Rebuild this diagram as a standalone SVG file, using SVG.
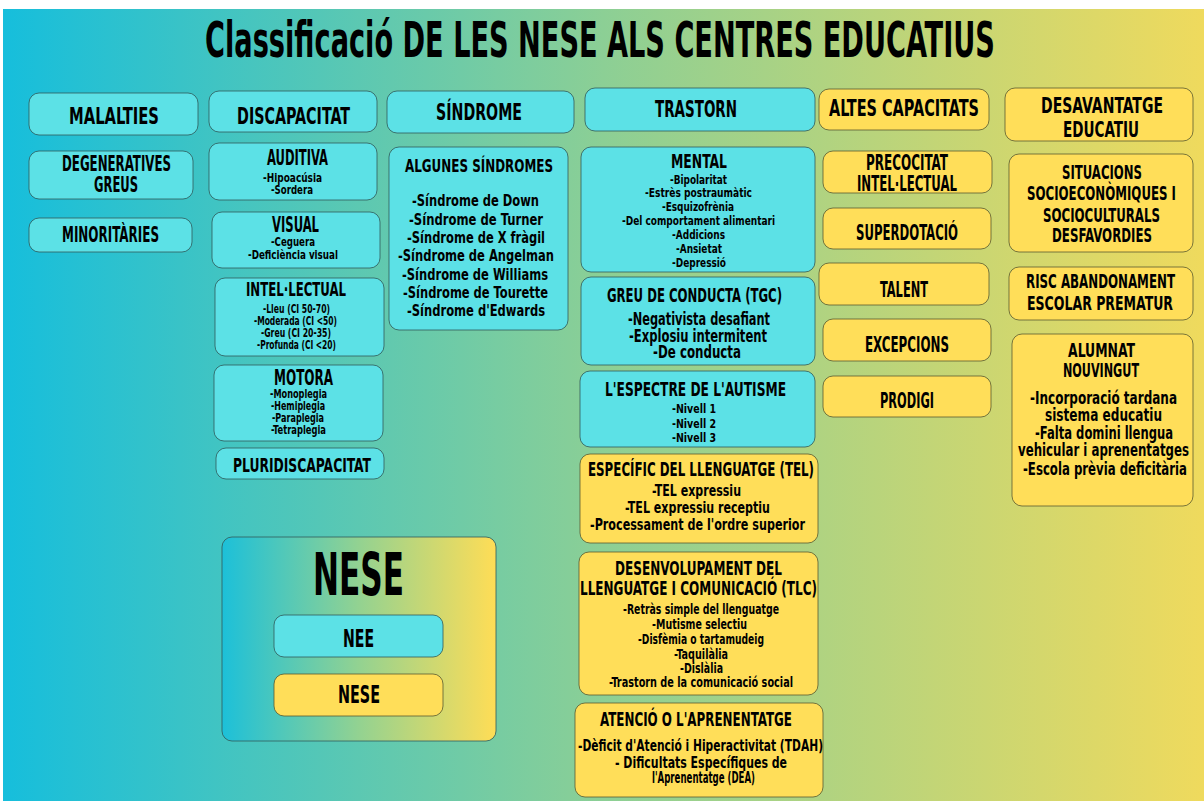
<svg xmlns="http://www.w3.org/2000/svg" width="1204" height="801" viewBox="0 0 1204 801">
<defs>
<linearGradient id="bg" x1="0" y1="0" x2="1" y2="0">
<stop offset="0" stop-color="#16BEDC"/>
<stop offset="0.5" stop-color="#8CCF95"/>
<stop offset="1" stop-color="#EFDA5D"/>
</linearGradient>
<linearGradient id="lg" x1="0" y1="0" x2="1" y2="0">
<stop offset="0" stop-color="#1CC0D9"/>
<stop offset="0.5" stop-color="#93D291"/>
<stop offset="1" stop-color="#FFDD56"/>
</linearGradient>
<style>
rect.c{fill:#5CE1E6;stroke:#2f5a5a;stroke-width:1;stroke-opacity:0.8}
rect.y{fill:#FFDE59;stroke:#5a5a2f;stroke-width:1;stroke-opacity:0.8}
text{font-family:"DejaVu Sans Condensed","DejaVu Sans","Liberation Sans",sans-serif;font-weight:bold;fill:#000;text-anchor:middle}
</style>
</defs>
<rect x="0" y="0" width="1204" height="801" fill="#ffffff"/>
<rect x="3" y="9" width="1201" height="792" fill="url(#bg)"/>
<text transform="translate(600 57) scale(.72 1)" font-size="50" textLength="1097" lengthAdjust="spacingAndGlyphs">Classificació DE LES NESE ALS CENTRES EDUCATIUS</text>

<g id="malalties"><rect class="c" x="29" y="93" width="169" height="42" rx="10"/><text transform="translate(114 124) scale(.72 1)" font-size="23" textLength="125" lengthAdjust="spacingAndGlyphs">MALALTIES</text></g>
<g id="degeneratives"><rect class="c" x="29" y="151" width="164" height="48" rx="10"/><text transform="translate(116.5 171) scale(.72 1)" font-size="21" textLength="151.4" lengthAdjust="spacingAndGlyphs">DEGENERATIVES</text><text transform="translate(116 192) scale(.72 1)" font-size="21" textLength="61.1" lengthAdjust="spacingAndGlyphs">GREUS</text></g>
<g id="minoritaries"><rect class="c" x="29" y="218" width="163" height="34" rx="10"/><text transform="translate(110.5 242) scale(.72 1)" font-size="21" textLength="134.7" lengthAdjust="spacingAndGlyphs">MINORITÀRIES</text></g>

<g id="discapacitat"><rect class="c" x="209" y="91" width="168" height="41" rx="10"/><text transform="translate(293.5 124) scale(.72 1)" font-size="23" textLength="156.9" lengthAdjust="spacingAndGlyphs">DISCAPACITAT</text></g>
<g id="auditiva"><rect class="c" x="209" y="143" width="168" height="57" rx="10"/><text transform="translate(297.5 165) scale(.72 1)" font-size="22" textLength="84.7" lengthAdjust="spacingAndGlyphs">AUDITIVA</text><text transform="translate(292.5 182) scale(.72 1)" font-size="12" textLength="81.9" lengthAdjust="spacingAndGlyphs">-Hipoacúsia</text><text transform="translate(292 194) scale(.72 1)" font-size="12" textLength="58.3" lengthAdjust="spacingAndGlyphs">-Sordera</text></g>
<g id="visual"><rect class="c" x="212" y="212" width="168" height="56" rx="10"/><text transform="translate(295.5 232) scale(.72 1)" font-size="21" textLength="65.3" lengthAdjust="spacingAndGlyphs">VISUAL</text><text transform="translate(293 246) scale(.72 1)" font-size="12" textLength="61.1" lengthAdjust="spacingAndGlyphs">-Ceguera</text><text transform="translate(293 259) scale(.72 1)" font-size="12" textLength="125" lengthAdjust="spacingAndGlyphs">-Deficiència visual</text></g>
<g id="intellectual"><rect class="c" x="215" y="278" width="169" height="78" rx="10"/><text transform="translate(296 296) scale(.72 1)" font-size="19" textLength="138.9" lengthAdjust="spacingAndGlyphs">INTEL·LECTUAL</text><text transform="translate(296.5 313) scale(.72 1)" font-size="12" textLength="93.1" lengthAdjust="spacingAndGlyphs">-Lleu (CI 50-70)</text><text transform="translate(295.5 325) scale(.72 1)" font-size="12" textLength="115.3" lengthAdjust="spacingAndGlyphs">-Moderada (CI &lt;50)</text><text transform="translate(296 337) scale(.72 1)" font-size="12" textLength="97.2" lengthAdjust="spacingAndGlyphs">-Greu (CI 20-35)</text><text transform="translate(296.5 349) scale(.72 1)" font-size="12" textLength="109.7" lengthAdjust="spacingAndGlyphs">-Profunda (CI &lt;20)</text></g>
<g id="motora"><rect class="c" x="214" y="365" width="169" height="76" rx="10"/><text transform="translate(303.5 385) scale(.72 1)" font-size="21" textLength="81.9" lengthAdjust="spacingAndGlyphs">MOTORA</text><text transform="translate(298.5 398) scale(.72 1)" font-size="12" textLength="79.2" lengthAdjust="spacingAndGlyphs">-Monoplegia</text><text transform="translate(298 410) scale(.72 1)" font-size="12" textLength="75" lengthAdjust="spacingAndGlyphs">-Hemiplegia</text><text transform="translate(298 422) scale(.72 1)" font-size="12" textLength="72.2" lengthAdjust="spacingAndGlyphs">-Paraplegia</text><text transform="translate(298.5 434) scale(.72 1)" font-size="12" textLength="76.4" lengthAdjust="spacingAndGlyphs">-Tetraplegia</text></g>
<g id="pluri"><rect class="c" x="216" y="448" width="168" height="31" rx="10"/><text transform="translate(302 472) scale(.72 1)" font-size="20" textLength="191.7" lengthAdjust="spacingAndGlyphs">PLURIDISCAPACITAT</text></g>

<g id="sindrome"><rect class="c" x="387" y="91" width="187" height="42" rx="10"/><text transform="translate(479 120) scale(.72 1)" font-size="23" textLength="119.4" lengthAdjust="spacingAndGlyphs">SÍNDROME</text></g>
<g id="algunes"><rect class="c" x="389" y="147" width="179" height="183" rx="10"/><text transform="translate(479 172) scale(.72 1)" font-size="18" textLength="205.6" lengthAdjust="spacingAndGlyphs">ALGUNES SÍNDROMES</text>
<text transform="translate(475.5 206) scale(.72 1)" font-size="16" textLength="176.4" lengthAdjust="spacingAndGlyphs">-Síndrome de Down</text>
<text transform="translate(476 224.5) scale(.72 1)" font-size="16" textLength="186.1" lengthAdjust="spacingAndGlyphs">-Síndrome de Turner</text>
<text transform="translate(476 243) scale(.72 1)" font-size="16" textLength="191.7" lengthAdjust="spacingAndGlyphs">-Síndrome de X fràgil</text>
<text transform="translate(476 261) scale(.72 1)" font-size="16" textLength="216.7" lengthAdjust="spacingAndGlyphs">-Síndrome de Angelman</text>
<text transform="translate(475 279.5) scale(.72 1)" font-size="16" textLength="202.8" lengthAdjust="spacingAndGlyphs">-Síndrome de Williams</text>
<text transform="translate(475.5 297.5) scale(.72 1)" font-size="16" textLength="201.4" lengthAdjust="spacingAndGlyphs">-Síndrome de Tourette</text>
<text transform="translate(476 316) scale(.72 1)" font-size="16" textLength="191.7" lengthAdjust="spacingAndGlyphs">-Síndrome d'Edwards</text></g>

<g id="trastorn"><rect class="c" x="585" y="88" width="230" height="43" rx="10"/><text transform="translate(696 117) scale(.72 1)" font-size="23" textLength="113.9" lengthAdjust="spacingAndGlyphs">TRASTORN</text></g>
<g id="mental"><rect class="c" x="581" y="147" width="234" height="125" rx="10"/><text transform="translate(699 168) scale(.72 1)" font-size="20" textLength="77.8" lengthAdjust="spacingAndGlyphs">MENTAL</text>
<text transform="translate(698.5 183.5) scale(.72 1)" font-size="13" textLength="79.2" lengthAdjust="spacingAndGlyphs">-Bipolaritat</text>
<text transform="translate(698.5 197) scale(.72 1)" font-size="13" textLength="148.6" lengthAdjust="spacingAndGlyphs">-Estrès postraumàtic</text>
<text transform="translate(698 211) scale(.72 1)" font-size="13" textLength="100" lengthAdjust="spacingAndGlyphs">-Esquizofrènia</text>
<text transform="translate(698.5 225) scale(.72 1)" font-size="13" textLength="212.5" lengthAdjust="spacingAndGlyphs">-Del comportament alimentari</text>
<text transform="translate(698.5 239) scale(.72 1)" font-size="13" textLength="73.6" lengthAdjust="spacingAndGlyphs">-Addicions</text>
<text transform="translate(699 252.5) scale(.72 1)" font-size="13" textLength="63.9" lengthAdjust="spacingAndGlyphs">-Ansietat</text>
<text transform="translate(699 266.5) scale(.72 1)" font-size="13" textLength="75" lengthAdjust="spacingAndGlyphs">-Depressió</text></g>
<g id="greu"><rect class="c" x="581" y="277" width="234" height="88" rx="10"/><text transform="translate(694.5 302) scale(.72 1)" font-size="20" textLength="243.1" lengthAdjust="spacingAndGlyphs">GREU DE CONDUCTA (TGC)</text>
<text transform="translate(699 325) scale(.72 1)" font-size="17.5" textLength="197.2" lengthAdjust="spacingAndGlyphs">-Negativista desafiant</text>
<text transform="translate(698 342) scale(.72 1)" font-size="17.5" textLength="191.7" lengthAdjust="spacingAndGlyphs">-Explosiu intermitent</text>
<text transform="translate(697 358) scale(.72 1)" font-size="17.5" textLength="122.2" lengthAdjust="spacingAndGlyphs">-De conducta</text></g>
<g id="autisme"><rect class="c" x="580" y="371" width="235" height="76" rx="10"/><text transform="translate(695.5 396) scale(.72 1)" font-size="20" textLength="251.4" lengthAdjust="spacingAndGlyphs">L'ESPECTRE DE L'AUTISME</text>
<text transform="translate(694 413) scale(.72 1)" font-size="13" textLength="61.1" lengthAdjust="spacingAndGlyphs">-Nivell 1</text>
<text transform="translate(694 428) scale(.72 1)" font-size="13" textLength="61.1" lengthAdjust="spacingAndGlyphs">-Nivell 2</text>
<text transform="translate(694 442) scale(.72 1)" font-size="13" textLength="61.1" lengthAdjust="spacingAndGlyphs">-Nivell 3</text></g>
<g id="tel"><rect class="y" x="580" y="454" width="238" height="89" rx="10"/><text transform="translate(701 476) scale(.72 1)" font-size="19" textLength="313.9" lengthAdjust="spacingAndGlyphs">ESPECÍFIC DEL LLENGUATGE (TEL)</text>
<text transform="translate(696.5 496) scale(.72 1)" font-size="16" textLength="123.6" lengthAdjust="spacingAndGlyphs">-TEL expressiu</text>
<text transform="translate(697.5 513) scale(.72 1)" font-size="16" textLength="201.4" lengthAdjust="spacingAndGlyphs">-TEL expressiu receptiu</text>
<text transform="translate(697.5 530) scale(.72 1)" font-size="16" textLength="298.6" lengthAdjust="spacingAndGlyphs">-Processament de l'ordre superior</text></g>
<g id="tlc"><rect class="y" x="579" y="552" width="239" height="143" rx="10"/><text transform="translate(698.5 575) scale(.72 1)" font-size="20" textLength="231.9" lengthAdjust="spacingAndGlyphs">DESENVOLUPAMENT DEL</text>
<text transform="translate(698.5 595) scale(.72 1)" font-size="20" textLength="329.2" lengthAdjust="spacingAndGlyphs">LLENGUATGE I COMUNICACIÓ (TLC)</text>
<text transform="translate(701 614) scale(.72 1)" font-size="14" textLength="216.7" lengthAdjust="spacingAndGlyphs">-Retràs simple del llenguatge</text>
<text transform="translate(699.5 629) scale(.72 1)" font-size="14" textLength="131.9" lengthAdjust="spacingAndGlyphs">-Mutisme selectiu</text>
<text transform="translate(701 644) scale(.72 1)" font-size="14" textLength="175" lengthAdjust="spacingAndGlyphs">-Disfèmia o tartamudeig</text>
<text transform="translate(701 659) scale(.72 1)" font-size="14" textLength="75" lengthAdjust="spacingAndGlyphs">-Taquilàlia</text>
<text transform="translate(701.5 673) scale(.72 1)" font-size="14" textLength="59.7" lengthAdjust="spacingAndGlyphs">-Dislàlia</text>
<text transform="translate(701 687) scale(.72 1)" font-size="14" textLength="255.6" lengthAdjust="spacingAndGlyphs">-Trastorn de la comunicació social</text></g>
<g id="atencio"><rect class="y" x="575" y="703" width="248" height="94" rx="10"/><text transform="translate(696 726) scale(.72 1)" font-size="19" textLength="266.7" lengthAdjust="spacingAndGlyphs">ATENCIÓ O L'APRENENTATGE</text>
<text transform="translate(700.5 751) scale(.72 1)" font-size="16" textLength="340.3" lengthAdjust="spacingAndGlyphs">-Dèficit d'Atenció i Hiperactivitat (TDAH)</text>
<text transform="translate(701 768) scale(.72 1)" font-size="16" textLength="238.9" lengthAdjust="spacingAndGlyphs">- Dificultats Específiques de</text>
<text transform="translate(703.5 783) scale(.72 1)" font-size="16" textLength="143.1" lengthAdjust="spacingAndGlyphs">l'Aprenentatge (DEA)</text></g>

<g id="altes"><rect class="y" x="819" y="89" width="170" height="41" rx="10"/><text transform="translate(904 116) scale(.72 1)" font-size="23" textLength="208.3" lengthAdjust="spacingAndGlyphs">ALTES CAPACITATS</text></g>
<g id="precocitat"><rect class="y" x="823" y="151" width="169" height="42" rx="10"/><text transform="translate(907 170) scale(.72 1)" font-size="21" textLength="113.9" lengthAdjust="spacingAndGlyphs">PRECOCITAT</text><text transform="translate(907 191) scale(.72 1)" font-size="21" textLength="138.9" lengthAdjust="spacingAndGlyphs">INTEL·LECTUAL</text></g>
<g id="superdotacio"><rect class="y" x="823" y="208" width="168" height="41" rx="10"/><text transform="translate(907 240) scale(.72 1)" font-size="21" textLength="141.7" lengthAdjust="spacingAndGlyphs">SUPERDOTACIÓ</text></g>
<g id="talent"><rect class="y" x="819" y="263" width="170" height="42" rx="10"/><text transform="translate(904 297) scale(.72 1)" font-size="21" textLength="66.7" lengthAdjust="spacingAndGlyphs">TALENT</text></g>
<g id="excepcions"><rect class="y" x="823" y="319" width="168" height="42" rx="10"/><text transform="translate(907 352) scale(.72 1)" font-size="21" textLength="116.7" lengthAdjust="spacingAndGlyphs">EXCEPCIONS</text></g>
<g id="prodigi"><rect class="y" x="823" y="376" width="168" height="41" rx="10"/><text transform="translate(907 408) scale(.72 1)" font-size="21" textLength="75" lengthAdjust="spacingAndGlyphs">PRODIGI</text></g>

<g id="desavantatge"><rect class="y" x="1005" y="88" width="188" height="53" rx="10"/><text transform="translate(1102 113) scale(.72 1)" font-size="21" textLength="169.4" lengthAdjust="spacingAndGlyphs">DESAVANTATGE</text><text transform="translate(1101 137) scale(.72 1)" font-size="21" textLength="105.6" lengthAdjust="spacingAndGlyphs">EDUCATIU</text></g>
<g id="situacions"><rect class="y" x="1009" y="154" width="184" height="98" rx="10"/><text transform="translate(1102 179) scale(.72 1)" font-size="20" textLength="111.1" lengthAdjust="spacingAndGlyphs">SITUACIONS</text><text transform="translate(1101.5 200) scale(.72 1)" font-size="20" textLength="206.9" lengthAdjust="spacingAndGlyphs">SOCIOECONÒMIQUES I</text><text transform="translate(1101.5 221.5) scale(.72 1)" font-size="20" textLength="162.5" lengthAdjust="spacingAndGlyphs">SOCIOCULTURALS</text><text transform="translate(1102 242) scale(.72 1)" font-size="20" textLength="138.9" lengthAdjust="spacingAndGlyphs">DESFAVORDIES</text></g>
<g id="risc"><rect class="y" x="1009" y="267" width="184" height="53" rx="10"/><text transform="translate(1100.5 288) scale(.72 1)" font-size="20" textLength="206.9" lengthAdjust="spacingAndGlyphs">RISC ABANDONAMENT</text><text transform="translate(1100 310) scale(.72 1)" font-size="20" textLength="202.8" lengthAdjust="spacingAndGlyphs">ESCOLAR PREMATUR</text></g>
<g id="alumnat"><rect class="y" x="1012" y="334" width="181" height="172" rx="10"/><text transform="translate(1101.5 357) scale(.72 1)" font-size="19" textLength="93.1" lengthAdjust="spacingAndGlyphs">ALUMNAT</text><text transform="translate(1101 377) scale(.72 1)" font-size="19" textLength="105.6" lengthAdjust="spacingAndGlyphs">NOUVINGUT</text>
<text transform="translate(1103.5 404) scale(.72 1)" font-size="17" textLength="204.2" lengthAdjust="spacingAndGlyphs">-Incorporació tardana</text>
<text transform="translate(1103.5 421) scale(.72 1)" font-size="17" textLength="162.5" lengthAdjust="spacingAndGlyphs">sistema educatiu</text>
<text transform="translate(1104 439) scale(.72 1)" font-size="17" textLength="191.7" lengthAdjust="spacingAndGlyphs">-Falta domini llengua</text>
<text transform="translate(1103.5 456) scale(.72 1)" font-size="17" textLength="237.5" lengthAdjust="spacingAndGlyphs">vehicular i aprenentatges</text>
<text transform="translate(1105 475) scale(.72 1)" font-size="17" textLength="227.8" lengthAdjust="spacingAndGlyphs">-Escola prèvia deficitària</text></g>

<g id="legend"><rect x="222" y="537" width="274" height="204" rx="10" fill="url(#lg)" stroke="#2f5a5a" stroke-opacity="0.8"/>
<text transform="translate(358.5 595) scale(.72 1)" font-size="58" textLength="126.4" lengthAdjust="spacingAndGlyphs">NESE</text>
<rect class="c" x="274" y="615" width="169" height="42" rx="10"/><text transform="translate(358.5 647) scale(.72 1)" font-size="25" textLength="43.1" lengthAdjust="spacingAndGlyphs">NEE</text>
<rect class="y" x="274" y="674" width="169" height="42" rx="10"/><text transform="translate(359 703) scale(.72 1)" font-size="25" textLength="58.3" lengthAdjust="spacingAndGlyphs">NESE</text></g>
<g id="connectors"/>
</svg>
